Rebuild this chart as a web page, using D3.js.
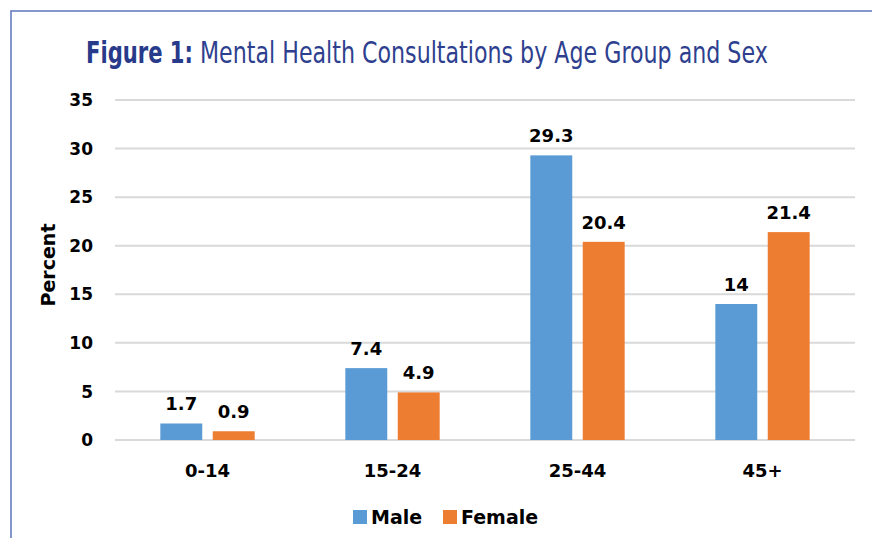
<html>
<script src="https://d3js.org/d3.v7.min.js"></script>
<style>
  body { margin: 0; background: white; }
  .num { font-family: "DejaVu Sans", sans-serif; font-weight: bold; fill: #000; }
  .ttl { font-family: "Liberation Sans Narrow", "DejaVu Sans Condensed", sans-serif; font-size: 30px; }
</style>
<body>
<svg id="chart" width="872" height="538"></svg>
<script>
// chart data
const ageGroups = ["0-14", "15-24", "25-44", "45+"];
const seriesNames = ["Male", "Female"];
const maleValues = [1.7, 7.4, 29.3, 14];
const femaleValues = [0.9, 4.9, 20.4, 21.4];
const yTicks = [0, 5, 10, 15, 20, 25, 30, 35];
const colors = { Male: "#5b9bd5", Female: "#ed7d31" };

const svg = d3.select("#chart");

// outer frame (only top and left show)
svg.append("path")
  .attr("d", "M11,545 L11,11 L880,11")
  .attr("fill", "none")
  .attr("stroke", "#5b76bd")
  .attr("stroke-width", 1.5);

// title, in two pieces, squeezed sideways to look condensed
function titlePart(txt, x, width, bold, color) {
  const t = svg.append("text")
    .attr("class", "ttl")
    .attr("font-weight", bold ? "bold" : "normal")
    .attr("fill", color)
    .text(txt);
  const len = t.node().getComputedTextLength();
  t.attr("transform", "translate(" + x + ",62.5) scale(" + (width / len) + ",1)");
}
titlePart("Figure 1:", 86, 107, true, "#283a8a");
titlePart("Mental Health Consultations by Age Group and Sex", 200, 568, false, "#2e3f8f");

const plotLeft = 115, plotRight = 855, plotTop = 100, plotBottom = 440;

const y = d3.scaleLinear().domain([0, 35]).range([plotBottom, plotTop]);
const x0 = d3.scaleBand().domain(ageGroups).range([plotLeft, plotRight]).padding(0);
const bw = x0.bandwidth();
const x1 = d3.scaleBand().domain(seriesNames).range([bw * 0.245, bw * 0.755]).paddingInner(0.2);

// gridlines
svg.append("g").selectAll("line")
  .data(yTicks)
  .join("line")
  .attr("x1", plotLeft).attr("x2", plotRight)
  .attr("y1", d => y(d)).attr("y2", d => y(d))
  .attr("stroke", "#d9d9d9")
  .attr("stroke-width", 2);

// y tick labels
svg.append("g").selectAll("text")
  .data(yTicks)
  .join("text")
  .attr("class", "num")
  .attr("x", 93)
  .attr("y", d => y(d))
  .attr("dy", "0.36em")
  .attr("text-anchor", "end")
  .attr("font-size", 17)
  .text(d => d);

// y axis title
svg.append("text")
  .attr("class", "num")
  .attr("transform", "translate(55,265) rotate(-90)")
  .attr("text-anchor", "middle")
  .attr("font-size", 19)
  .text("Percent");

const rows = ageGroups.map((g, i) => ({
  group: g,
  vals: [{ s: "Male", v: maleValues[i] }, { s: "Female", v: femaleValues[i] }]
}));

const groups = svg.append("g").selectAll("g")
  .data(rows)
  .join("g")
  .attr("transform", d => "translate(" + x0(d.group) + ",0)");

groups.selectAll("rect")
  .data(d => d.vals)
  .join("rect")
  .attr("x", d => x1(d.s))
  .attr("width", x1.bandwidth())
  .attr("y", d => y(d.v))
  .attr("height", d => y(0) - y(d.v))
  .attr("fill", d => colors[d.s]);

groups.selectAll("text.lbl")
  .data(d => d.vals)
  .join("text")
  .attr("class", "num lbl")
  .attr("x", d => x1(d.s) + x1.bandwidth() / 2)
  .attr("y", d => y(d.v) - 13)
  .attr("text-anchor", "middle")
  .attr("font-size", 18)
  .text(d => d.v);

// category labels
svg.append("g").selectAll("text")
  .data(ageGroups)
  .join("text")
  .attr("class", "num")
  .attr("x", d => x0(d) + bw / 2)
  .attr("y", 477)
  .attr("text-anchor", "middle")
  .attr("font-size", 18)
  .text(d => d);

// legend
const legendX = [353, 443];
const legend = svg.append("g").selectAll("g")
  .data(seriesNames)
  .join("g")
  .attr("transform", (d, i) => "translate(" + legendX[i] + ",510)");
legend.append("rect")
  .attr("width", 14).attr("height", 14)
  .attr("fill", d => colors[d]);
legend.append("text")
  .attr("class", "num")
  .attr("x", 18).attr("y", 13.5)
  .attr("font-size", 19)
  .text(d => d);
</script>
</body>
</html>
